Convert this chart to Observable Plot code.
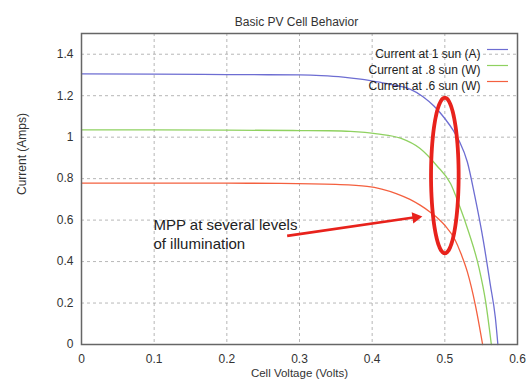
<!DOCTYPE html>
<html>
<head>
<meta charset="utf-8">
<script src="https://cdn.jsdelivr.net/npm/d3@7"></script>
<script src="https://cdn.jsdelivr.net/npm/@observablehq/plot@0.6"></script>
<style>
  html, body { margin: 0; padding: 0; background: #fff; }
  #chart { width: 529px; height: 381px; }
</style>
</head>
<body>
<div id="chart"></div>
<script>
// ---- data ----
const titleText = "Basic PV Cell Behavior";
const xLabel = "Cell Voltage (Volts)";
const yLabel = "Current (Amps)";
const xTicks = [0, 0.1, 0.2, 0.3, 0.4, 0.5, 0.6];
const yTicks = [0, 0.2, 0.4, 0.6, 0.8, 1, 1.2, 1.4];

const seriesNames = ["Current at 1 sun (A)", "Current at .8 sun (W)", "Current at .6 sun (W)"];
const seriesColors = ["#6d6dd2", "#8fd160", "#f4603f"];

const voltage1 = [0, 0.1, 0.2, 0.3, 0.33, 0.36, 0.384, 0.41, 0.435, 0.452, 0.47, 0.485, 0.5, 0.512, 0.520, 0.531, 0.541, 0.553, 0.5625, 0.5695, 0.573];
const current1 = [1.305, 1.304, 1.302, 1.300, 1.297, 1.290, 1.280, 1.265, 1.248, 1.232, 1.195, 1.150, 1.090, 1.03, 0.98, 0.88, 0.72, 0.50, 0.29, 0.13, 0];

const voltage08 = [0, 0.1, 0.2, 0.3, 0.34, 0.37, 0.407, 0.439, 0.466, 0.489, 0.508, 0.519, 0.533, 0.547, 0.556, 0.564];
const current08 = [1.035, 1.035, 1.034, 1.032, 1.031, 1.028, 1.016, 0.995, 0.945, 0.862, 0.775, 0.68, 0.54, 0.37, 0.21, 0];

const voltage06 = [0, 0.1, 0.2, 0.274, 0.35, 0.393, 0.434, 0.452, 0.466, 0.48, 0.491, 0.5, 0.514, 0.522, 0.531, 0.542, 0.552];
const current06 = [0.778, 0.778, 0.778, 0.777, 0.772, 0.763, 0.727, 0.700, 0.672, 0.638, 0.607, 0.575, 0.505, 0.44, 0.35, 0.19, 0];

// annotation (data units)
const noteText = "MPP at several levels\nof illumination";
const notePos = [0.099, 0.536];
const arrowFrom = [0.283, 0.524];
const arrowTo = [0.469, 0.615];
const ellipseCenter = [0.5, 0.815];
const ellipseRadii = [0.019, 0.375];

// ---- build tables ----
const curves = [
  ...voltage1.map((v, i) => ({v, c: current1[i], s: seriesNames[0]})),
  ...voltage08.map((v, i) => ({v, c: current08[i], s: seriesNames[1]})),
  ...voltage06.map((v, i) => ({v, c: current06[i], s: seriesNames[2]}))
];

const ellipsePts = d3.range(0, 361, 4).map(a => {
  const t = a * Math.PI / 180;
  return {x: ellipseCenter[0] + ellipseRadii[0] * Math.cos(t), y: ellipseCenter[1] + ellipseRadii[1] * Math.sin(t)};
});

const font = "'Liberation Sans', Arial, Helvetica, sans-serif";
const lineSymbol = {draw(ctx) { ctx.moveTo(-10.5, 0); ctx.lineTo(10.5, 0); }};

const legendMarks = seriesNames.flatMap((name, i) => [
  Plot.text([name], {frameAnchor: "top-right", dx: -37, dy: 16 + i * 16, textAnchor: "end", fontSize: 12, fill: "#222"}),
  Plot.dot([name], {frameAnchor: "top-right", dx: -20, dy: 16 + i * 16, symbol: lineSymbol, stroke: seriesColors[i], strokeWidth: 1.2, r: 5})
]);

const chart = Plot.plot({
  width: 529,
  height: 381,
  marginLeft: 81,
  marginRight: 12,
  marginTop: 33,
  marginBottom: 37,
  style: {fontFamily: font, fontSize: "12px", background: "#fff", color: "#333", overflow: "visible"},
  x: {domain: [0, 0.6]},
  y: {domain: [0, 1.5]},
  color: {domain: seriesNames, range: seriesColors},
  marks: [
    Plot.gridX(xTicks.slice(1, -1), {stroke: "#999", strokeOpacity: 0.7, strokeDasharray: "3,3"}),
    Plot.gridY(yTicks.slice(1), {stroke: "#999", strokeOpacity: 0.7, strokeDasharray: "3,3"}),
    Plot.axisX({ticks: xTicks, tickFormat: d => String(d), tickSize: 0, tickPadding: 10, fontSize: 12, fill: "#333", label: null}),
    Plot.axisY({ticks: yTicks, tickFormat: d => String(d), tickSize: 0, tickPadding: 8, fontSize: 12, fill: "#333", label: null}),
    Plot.line(curves, {x: "v", y: "c", z: "s", stroke: "s", strokeWidth: 1.3, curve: "monotone-x"}),
    Plot.frame({stroke: "#666", strokeWidth: 1.5}),
    ...legendMarks,
    Plot.line(ellipsePts, {x: "x", y: "y", stroke: "#e8221c", strokeWidth: 3.8, curve: "catmull-rom-closed"}),
    Plot.link([0], {x1: () => arrowFrom[0], y1: () => arrowFrom[1], x2: () => arrowTo[0] - 0.012, y2: () => arrowTo[1] - 0.0025, stroke: "#e8221c", strokeWidth: 2.6}),
    Plot.dot([0], {x: () => arrowTo[0] - 0.009, y: () => arrowTo[1] - 0.002, symbol: "triangle2", r: 5.5, fill: "#e8221c", stroke: "none", rotate: 82}),
    Plot.text([noteText], {x: () => notePos[0], y: () => notePos[1], textAnchor: "start", fontSize: 15, lineHeight: 1.27, fill: "#222"}),
    Plot.text([titleText], {frameAnchor: "top", dx: -3, dy: -16, fontSize: 12, fill: "#333"}),
    Plot.text([xLabel], {frameAnchor: "bottom", dy: 32, fontSize: 11.5, fill: "#333"}),
    Plot.text([yLabel], {frameAnchor: "left", dx: -59, dy: 6, rotate: -90, fontSize: 12, fill: "#333"})
  ]
});
document.getElementById("chart").appendChild(chart);
</script>
</body>
</html>
